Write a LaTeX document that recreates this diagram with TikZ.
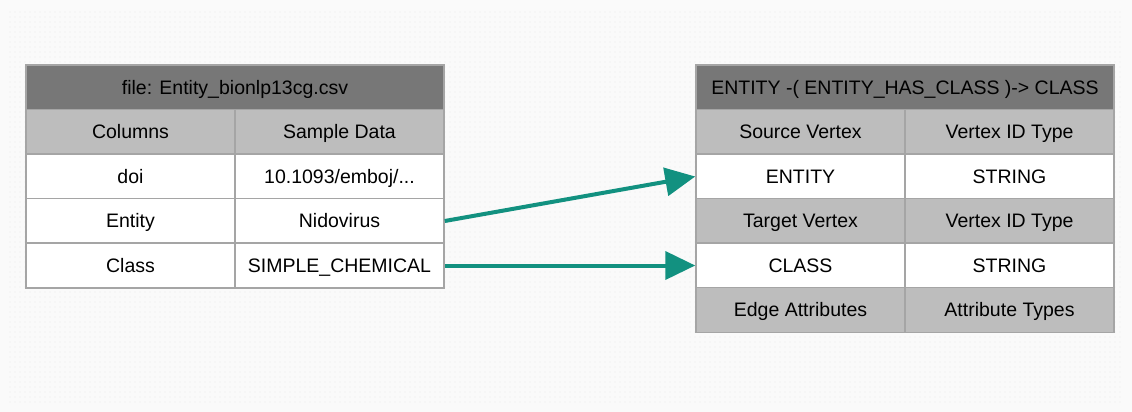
\documentclass[tikz,border=0pt]{standalone}
\usepackage{fontspec}
\setmainfont{Liberation Sans}
\usetikzlibrary{arrows.meta,patterns.meta}

\definecolor{hdrgray}{RGB}{119,119,119}
\definecolor{subgray}{RGB}{189,189,189}
\definecolor{linegray}{RGB}{165,165,165}
\definecolor{linkteal}{RGB}{18,145,128}
\definecolor{paper}{RGB}{250,250,250}

\tikzset{
    cell/.style={draw=linegray, line width=1.5, fill=white, minimum width=209, minimum height=44.6, inner sep=0, text height=17, text depth=3.5, font=\fontsize{19.5}{22}\selectfont},
    subcell/.style={cell, fill=subgray},
    titlecell/.style={cell, fill=hdrgray, minimum width=418},
    link/.style={draw=linkteal, line width=4, -{Triangle[length=30,width=28]}}
}

\begin{document}
\begin{tikzpicture}[x=1pt,y=-1pt]
        \useasboundingbox (0,0) rectangle (1132,412);
        %Background
        \fill [paper] (0,0) rectangle (1132,412);
        \fill [pattern={Dots[distance=5pt,radius=0.45pt]}, pattern color=gray!40] (8,10) rectangle (1124,402);

        %Table: csv file
        \node [titlecell] (fileTitle) at (235,87.5) {file: Entity\_bionlp13cg.csv};
        \node [subcell] (colHead) at (130.5,132) {Columns};
        \node [subcell] (dataHead) at (339.5,132) {Sample Data};
        \node [cell] (colDoi) at (130.5,176.5) {doi};
        \node [cell] (dataDoi) at (339.5,176.5) {10.1093/emboj/...};
        \node [cell] (colEntity) at (130.5,221) {Entity};
        \node [cell] (dataEntity) at (339.5,221) {Nidovirus};
        \node [cell] (colClass) at (130.5,265.5) {Class};
        \node [cell] (dataClass) at (339.5,265.5) {SIMPLE\_CHEMICAL};

        %Table: edge type
        \node [titlecell] (edgeTitle) at (905,87.5) {ENTITY -( ENTITY\_HAS\_CLASS )-> CLASS};
        \node [subcell] (srcHead) at (800.5,132) {Source Vertex};
        \node [subcell] (srcTypeHead) at (1009.5,132) {Vertex ID Type};
        \node [cell] (srcVertex) at (800.5,176.5) {ENTITY};
        \node [cell] (srcType) at (1009.5,176.5) {STRING};
        \node [subcell] (tgtHead) at (800.5,221) {Target Vertex};
        \node [subcell] (tgtTypeHead) at (1009.5,221) {Vertex ID Type};
        \node [cell] (tgtVertex) at (800.5,265.5) {CLASS};
        \node [cell] (tgtType) at (1009.5,265.5) {STRING};
        \node [subcell] (attrHead) at (800.5,310) {Edge Attributes};
        \node [subcell] (attrTypeHead) at (1009.5,310) {Attribute Types};

        %Mappings
        \draw [link] (dataEntity.east) -- (srcVertex.west);
        \draw [link] (dataClass.east) -- (tgtVertex.west);
\end{tikzpicture}
\end{document}
